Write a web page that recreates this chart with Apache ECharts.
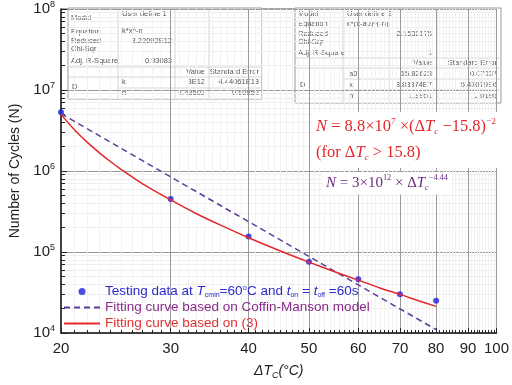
<!DOCTYPE html>
<html>
<head>
<meta charset="utf-8">
<script src="https://cdn.jsdelivr.net/npm/echarts@6/dist/echarts.min.js"></script>
<style>
  html, body { margin: 0; padding: 0; background: #fff; }
  #main { width: 512px; height: 385px; }
</style>
</head>
<body>
<div id="main"></div>
<script>
// testing data
const testX = [20, 30, 40, 50, 60, 70, 80];
const testN = [5.3e6, 4.5e5, 1.55e5, 7.6e4, 4.6e4, 3.0e4, 2.5e4];
// Coffin-Manson fit (straight on log-log), end points
const cmX = [20, 80];
const cmN = [5.1e6, 1.1e4];
// fit based on (3)
const eq3X = [20, 21, 22, 23, 24, 25, 27, 30, 33, 36, 40, 45, 50, 55, 60, 65, 70, 75, 80];
const eq3N = [5.0e6, 3.25e6, 2.29e6, 1.7e6, 1.31e6, 1.04e6, 7.0e5, 4.4e5, 2.97e5, 2.16e5,
              1.5e5, 1.03e5, 7.5e4, 5.7e4, 4.5e4, 3.6e4, 3.0e4, 2.5e4, 2.13e4];
// axis ticks
const xTicks = [20, 30, 40, 50, 60, 70, 80, 90, 100];
const yTicks = [1e4, 1e5, 1e6, 1e7, 1e8];

const xMinor = [];
for (let v = 21; v < 100; v++) if (v % 10) xMinor.push(v);
const yMinor = [];
for (let e = 4; e < 8; e++) for (let k = 2; k < 10; k++) yMinor.push(k * Math.pow(10, e));

const SANS = '"Liberation Sans", Arial, sans-serif';
const SERIF = '"Liberation Serif", "Times New Roman", serif';
const RED = '#e3282c';
const PURPLE = '#6a2a80';
const BLUE = '#1f1fe0';

// small fit tables
const tblFont = { fontFamily: SANS, fontSize: 7.5, fill: '#555' };
function txt(x, y, s, align) {
  return { type: 'text', x: x, y: y, style: Object.assign({ text: s, align: align || 'left', verticalAlign: 'middle' }, tblFont) };
}
function ln(x1, y1, x2, y2, c) {
  return { type: 'line', shape: { x1: x1, y1: y1, x2: x2, y2: y2 }, style: { stroke: c || '#d4d4d4', lineWidth: 1 } };
}

const table1 = [
  { type: 'rect', shape: { x: 68, y: 8, width: 194, height: 91 }, style: { fill: '#fff', stroke: '#999', lineWidth: 1 } },
  ln(118, 8, 118, 99), ln(175, 8, 175, 99), ln(209, 8, 209, 99),
  ln(68, 67, 262, 67), ln(68, 77, 262, 77), ln(118, 88, 262, 88),
  txt(71, 18, 'Model'), txt(122, 14, 'User define 1'),
  txt(71, 32, 'Equation'), txt(122, 31, 'k*x^-n'),
  txt(71, 41, 'Reduced'), txt(71, 49, 'Chi-Sqr'), txt(172, 41, '3.22092E12', 'right'),
  txt(71, 61, 'Adj. R-Square'), txt(172, 61, '0.93083', 'right'),
  txt(205, 72, 'Value', 'right'), txt(259, 72, 'Standard Error', 'right'),
  txt(72, 87, 'D'),
  txt(122, 82, 'k'), txt(205, 82, '3E12', 'right'), txt(259, 82, '4.44061E13', 'right'),
  txt(122, 93, 'n'), txt(205, 93, '4.43502', 'right'), txt(259, 93, '0.60852', 'right')
];

const table2 = [
  { type: 'rect', shape: { x: 295, y: 8, width: 206, height: 95 }, style: { fill: '#fff', stroke: '#999', lineWidth: 1 } },
  ln(343, 8, 343, 103), ln(389, 8, 389, 103), ln(437, 8, 437, 103),
  ln(295, 58, 501, 58), ln(295, 68, 501, 68), ln(343, 79, 501, 79), ln(343, 90, 501, 90),
  txt(298, 14, 'Model'), txt(347, 14, 'User define 2'),
  txt(298, 24, 'Equation'), txt(347, 24, 'k*(x-a0)^(-n)'),
  txt(298, 34, 'Reduced'), txt(298, 42, 'Chi-Sqr'), txt(432, 34, '2.1538175', 'right'),
  txt(298, 53, 'Adj. R-Square'), txt(432, 53, '1', 'right'),
  txt(432, 63, 'Value', 'right'), txt(497, 63, 'Standard Error', 'right'),
  txt(349, 74, 'a0'), txt(432, 74, '15.82623', 'right'), txt(497, 74, '0.07037', 'right'),
  txt(300, 85, 'D'),
  txt(349, 85, 'k'), txt(432, 85, '8.83374E7', 'right'), txt(497, 85, '5.47079E6', 'right'),
  txt(349, 96, 'n'), txt(432, 96, '1.9951', 'right'), txt(497, 96, '0.0195', 'right')
];

function eqRich(color, size) {
  return {
    n: { fontFamily: SERIF, fontSize: size, color: color },
    i: { fontFamily: SERIF, fontSize: size, color: color, fontStyle: 'italic' },
    sup: { fontFamily: SERIF, fontSize: size * 0.55, color: color, padding: [0, 0, size * 0.7, 0] },
    sub: { fontFamily: SERIF, fontSize: size * 0.55, color: color, fontStyle: 'italic', padding: [size * 0.55, 0, 0, 0] }
  };
}

const equations = [
  {
    type: 'text', left: 312, top: 112, z: 5,
    style: {
      text: '{i|N} = 8.8×10{sup|7} ×(Δ{i|T}{sub|c} −15.8){sup|−2}\n{n|(for Δ}{i|T}{sub|c}{n| > 15.8)}',
      rich: eqRich(RED, 16.5), backgroundColor: '#fff', padding: [2, 4], lineHeight: 26,
      fill: RED, fontFamily: SERIF, fontSize: 16.5
    }
  },
  {
    type: 'text', left: 322, top: 172, z: 5,
    style: {
      text: '{i|N} = 3×10{sup|12} × Δ{i|T}{sub|c}{sup|−4.44}',
      rich: eqRich(PURPLE, 15), backgroundColor: '#fff', padding: [2, 4],
      fill: PURPLE, fontFamily: SERIF, fontSize: 15
    }
  }
];

const legendNames = {
  test: '{b|Testing data at }{bi|T}{bs|cmin}{b|=60}{bsup|o}{b|C and }{bi|t}{bs|on}{b| = }{bi|t}{bs|off}{b| =60s}',
  cm: '{p|Fitting curve based on Coffin-Manson model}',
  eq3: '{r|Fitting curve based on (3)}'
};

const chart = echarts.init(document.getElementById('main'));
chart.setOption({
  animation: false,
  backgroundColor: '#fff',
  grid: { left: 57, right: 10, top: 8, bottom: 51, show: true, borderColor: '#555', borderWidth: 1 },
  legend: {
    orient: 'vertical', left: 58, top: 279, itemWidth: 36, itemHeight: 7, itemGap: 2,
    data: [
      { name: 'test', icon: 'circle' },
      { name: 'cm', itemStyle: { opacity: 0 } },
      { name: 'eq3', itemStyle: { opacity: 0 } }
    ],
    formatter: function (n) { return legendNames[n]; },
    textStyle: {
      fontFamily: SANS, fontSize: 13.5,
      rich: {
        b: { color: '#2b2bcc', fontSize: 13.5, fontFamily: SANS },
        bi: { color: '#2b2bcc', fontSize: 13.5, fontFamily: SANS, fontStyle: 'italic' },
        bs: { color: '#2b2bcc', fontSize: 7, fontFamily: SANS, padding: [7, 0, 0, 0] },
        bsup: { color: '#2b2bcc', fontSize: 8, fontFamily: SANS, padding: [0, 0, 7, 0] },
        p: { color: '#8a2a8c', fontSize: 13.5, fontFamily: SANS },
        r: { color: '#e23030', fontSize: 13.5, fontFamily: SANS }
      }
    }
  },
  xAxis: [
    {
      type: 'log', logBase: 10, min: 20, max: 100, position: 'bottom',
      name: '{i|ΔT}{s|C}{i|(°C)}', nameLocation: 'middle', nameGap: 30,
      nameTextStyle: {
        rich: {
          i: { fontFamily: SANS, fontSize: 14, fontStyle: 'italic', color: '#222' },
          s: { fontFamily: SANS, fontSize: 9, fontStyle: 'italic', color: '#222', padding: [8, 0, 0, 0] }
        }
      },
      axisLine: { lineStyle: { color: '#222', width: 1.5 } },
      axisTick: { inside: true, length: 5, customValues: xTicks, lineStyle: { color: '#222' } },
      axisLabel: { customValues: xTicks, fontFamily: SANS, fontSize: 15, color: '#222', margin: 8 },
      splitLine: { show: true, lineStyle: { color: '#9a9a9a', width: 1 } }
    },
    {
      type: 'log', logBase: 10, min: 20, max: 100, position: 'bottom',
      axisLine: { show: false },
      axisTick: { inside: true, length: 3, customValues: xMinor, lineStyle: { color: '#222' } },
      axisLabel: { show: false },
      splitLine: { show: true, lineStyle: { color: '#f2f2f2', width: 1 } }
    }
  ],
  yAxis: [
    {
      type: 'log', logBase: 10, min: 1e4, max: 1e8, position: 'left',
      name: 'Number of Cycles (N)', nameLocation: 'middle', nameGap: 39,
      nameTextStyle: { fontFamily: SANS, fontSize: 14, color: '#222' },
      axisLine: { lineStyle: { color: '#222', width: 1.5 } },
      axisTick: { inside: true, length: 6, customValues: yTicks, lineStyle: { color: '#222' } },
      axisLabel: {
        customValues: yTicks, margin: 6,
        formatter: function (v) { return '{b|10}{s|' + Math.round(Math.log10(v)) + '}'; },
        rich: {
          b: { fontFamily: SANS, fontSize: 15, color: '#222' },
          s: { fontFamily: SANS, fontSize: 9, color: '#222', padding: [0, 0, 9, 0] }
        }
      },
      splitLine: { show: true, lineStyle: { color: '#9a9a9a', width: 1 } }
    },
    {
      type: 'log', logBase: 10, min: 1e4, max: 1e8, position: 'left',
      axisLine: { show: false },
      axisTick: { inside: true, length: 4, customValues: yMinor, lineStyle: { color: '#222' } },
      axisLabel: { show: false },
      splitLine: { show: true, lineStyle: { color: '#eeeeee', width: 1 } }
    }
  ],
  graphic: table1.concat(table2).concat(equations),
  series: [
    {
      name: 'test', type: 'scatter', symbol: 'circle', symbolSize: 6,
      itemStyle: { color: BLUE },
      data: testX.map(function (x, i) { return [x, testN[i]]; })
    },
    {
      name: 'cm', type: 'line', symbol: 'none', showSymbol: false,
      lineStyle: { color: '#5b3f98', width: 1.5, type: [6, 4] },
      itemStyle: { color: '#5b3f98' },
      data: cmX.map(function (x, i) { return [x, cmN[i]]; })
    },
    {
      name: 'eq3', type: 'line', symbol: 'none', showSymbol: false,
      smooth: 0.3,
      lineStyle: { color: RED, width: 1.5 },
      itemStyle: { color: RED },
      data: eq3X.map(function (x, i) { return [x, eq3N[i]]; })
    }
  ]
});
</script>
</body>
</html>
